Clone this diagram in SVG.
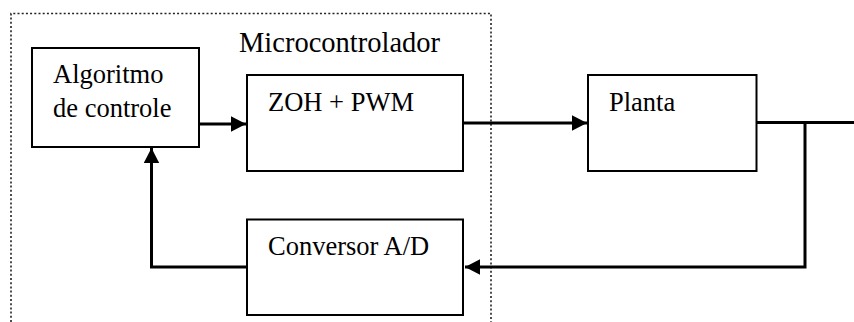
<svg xmlns="http://www.w3.org/2000/svg" width="854" height="322" viewBox="0 0 854 322">
<style>
  .box { fill: #fff; stroke: #000; stroke-width: 2; }
  .lbl { font-family: 'Liberation Serif', 'DejaVu Serif', 'Times New Roman', Times, serif; font-size: 26.5px; fill: #000; }
  .wire { fill: none; stroke: #000; stroke-width: 3; }
  .dot { fill: none; stroke: #222; stroke-width: 1.6; stroke-dasharray: 2 2.2; }
</style>
<defs>
  <marker id="arr" markerWidth="16" markerHeight="16" refX="15" refY="7.7" orient="auto" markerUnits="userSpaceOnUse">
    <path d="M0,0 L15,7.7 L0,15.4 Z" fill="#000"/>
  </marker>
</defs>
<rect width="854" height="322" fill="#fff"/>
<g id="microcontrolador">
  <path class="dot" d="M11,322 V13.5 H491 V322"/>
  <text class="lbl" x="239" y="52" font-family="Liberation Serif, serif" style="font-size:28.5px">Microcontrolador</text>
</g>
<g id="connectors">
  <path class="wire" d="M200,124 H246" marker-end="url(#arr)"/>
  <path class="wire" d="M463,123 H587" marker-end="url(#arr)"/>
  <path class="wire" d="M757,122.5 H854"/>
  <path class="wire" d="M805,122.5 V267 H465" marker-end="url(#arr)"/>
  <path class="wire" d="M247,267 H151.5 V148" marker-end="url(#arr)"/>
</g>
<g id="algoritmo">
  <rect class="box" x="32" y="48" width="167" height="99"/>
  <text class="lbl" x="53" y="83">Algoritmo</text>
  <text class="lbl" x="53" y="117">de controle</text>
</g>
<g id="zoh">
  <rect class="box" x="247" y="75" width="216" height="96"/>
  <text class="lbl" x="268" y="111">ZOH + PWM</text>
</g>
<g id="planta">
  <rect class="box" x="588" y="75" width="168.5" height="96"/>
  <text class="lbl" x="609" y="111">Planta</text>
</g>
<g id="conversor">
  <rect class="box" x="247" y="219.5" width="216" height="95.5"/>
  <text class="lbl" x="268" y="255">Conversor A/D</text>
</g>
</svg>
